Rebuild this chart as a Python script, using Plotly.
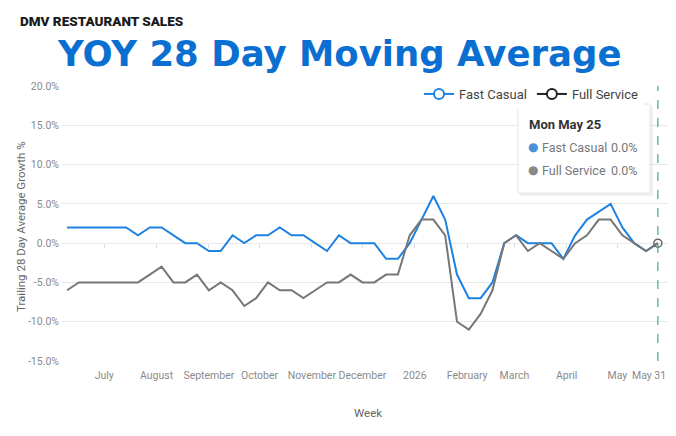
import pandas as pd
import plotly.graph_objects as go

# ---------------- data ----------------
start_week = "2025-06-09"   # first Monday shown
n_weeks = 51
weeks = pd.date_range(start_week, periods=n_weeks, freq="7D")

fast_casual = [2, 2, 2, 2, 2, 2, 1, 2, 2, 1, 0, 0, -1, -1, 1, 0, 1, 1, 2, 1,
               1, 0, -1, 1, 0, 0, 0, -2, -2, 0, 3, 6, 3, -4, -7, -7, -5, 0, 1, 0,
               0, 0, -2, 1, 3, 4, 5, 2, 0, -1, 0]
full_service = [-6, -5, -5, -5, -5, -5, -5, -4, -3, -5, -5, -4, -6, -5, -6, -8, -7, -5, -6, -6,
                -7, -6, -5, -5, -4, -5, -5, -4, -4, 1, 3, 3, 1, -10, -11, -9, -6, 0, 1, -1,
                0, -1, -2, 0, 1, 3, 3, 1, 0, -1, 0]

tick_dates = ["2025-07-01", "2025-08-01", "2025-09-01", "2025-10-01", "2025-11-01",
              "2025-12-01", "2026-01-01", "2026-02-01", "2026-03-01", "2026-04-01", "2026-05-01"]
tick_labels = ["July", "August", "September", "October", "November", "December",
               "2026", "February", "March", "April", "May"]
x_range = ["2025-06-06", "2026-05-31"]
end_label = "May 31"
y_ticks = [-15, -10, -5, 0, 5, 10, 15, 20]

series_names = ["Fast Casual", "Full Service"]
BLUE = "#1E82E0"
GRAY = "#777777"

# ---------------- layout helpers ----------------
W, H = 676, 436
L, R, T, B = 62, 668, 86, 361


def px(x):
    return (x - L) / (R - L)


def py(y):
    return (B - y) / (B - T)


FONT = "Roboto, 'Noto Sans', sans-serif"

fig = go.Figure()

fig.add_trace(go.Scatter(x=weeks, y=fast_casual, mode="lines", name=series_names[0],
                         line=dict(color=BLUE, width=2), showlegend=False))
fig.add_trace(go.Scatter(x=weeks, y=full_service, mode="lines", name=series_names[1],
                         line=dict(color=GRAY, width=2), showlegend=False))
# hover marker on last point
fig.add_trace(go.Scatter(x=[weeks[-1]], y=[full_service[-1]], mode="markers", showlegend=False,
                         marker=dict(symbol="circle-open", size=8, color="#666666",
                                     line=dict(width=1.5, color="#666666"))))
# legend entries
fig.add_trace(go.Scatter(x=[None], y=[None], mode="lines+markers", name=series_names[0],
                         line=dict(color=BLUE, width=2),
                         marker=dict(symbol="circle", size=10, color="white",
                                     line=dict(color=BLUE, width=2))))
fig.add_trace(go.Scatter(x=[None], y=[None], mode="lines+markers", name=series_names[1],
                         line=dict(color="#222222", width=2),
                         marker=dict(symbol="circle", size=10, color="white",
                                     line=dict(color="#222222", width=2))))

# zero-line tick marks axis
fig.add_trace(go.Scatter(x=[weeks[0]], y=[None], xaxis="x2", showlegend=False, hoverinfo="skip"))

fig.update_layout(
    width=W, height=H,
    margin=dict(l=L, r=W - R, t=T, b=H - B),
    paper_bgcolor="white", plot_bgcolor="white",
    font=dict(family=FONT, size=11, color="#888888"),
    xaxis=dict(type="date", range=x_range, tickvals=tick_dates, ticktext=tick_labels,
               showgrid=False, zeroline=False, showline=False, ticks="", tickangle=0,
               tickfont=dict(size=10.5, color="#8a8a8a"), ticklabelstandoff=6),
    xaxis2=dict(type="date", range=x_range, overlaying="x", anchor="free",
                position=(0 - y_ticks[0]) / (y_ticks[-1] - y_ticks[0]),
                tickvals=tick_dates, showticklabels=False, showgrid=False,
                ticks="outside", ticklen=4, tickcolor="#dddddd", showline=False, zeroline=False),
    yaxis=dict(range=[y_ticks[0], y_ticks[-1]], tickvals=y_ticks,
               ticktext=[f"{v:.1f}%" for v in y_ticks],
               showgrid=True, gridcolor="#e8e8e8", gridwidth=1, zeroline=False,
               tickfont=dict(size=10.5, color="#8a8a8a"), ticks="", ticklabelstandoff=2),
    legend=dict(orientation="h", x=px(644), xanchor="right", y=py(94), yanchor="middle",
                bgcolor="white", font=dict(size=13, color="#444444"),
                itemwidth=30, tracegroupgap=0),
    showlegend=True,
)

# dashed hover line at last week
fig.add_shape(type="line", x0=weeks[-1], x1=weeks[-1], xref="x", yref="paper", y0=0, y1=1,
              line=dict(color="#3CB371", width=1.2, dash="dash"))

# tooltip box (shadow + box)
fig.add_shape(type="rect", xref="paper", yref="paper",
              x0=px(520), x1=px(653), y0=py(106), y1=py(196),
              fillcolor="rgba(0,0,0,0.06)", line=dict(width=0), layer="above")
fig.add_shape(type="rect", xref="paper", yref="paper",
              x0=px(518), x1=px(650), y0=py(104), y1=py(193),
              fillcolor="white", line=dict(color="#e4e4e4", width=1), layer="above")

ann = []
ann.append(dict(text="DMV RESTAURANT SALES", x=px(18), y=py(21), xref="paper", yref="paper",
                xanchor="left", yanchor="middle", showarrow=False,
                font=dict(family=FONT, size=13.5, color="#1a1a1a", weight=900)))
ann.append(dict(text="YOY 28 Day Moving Average", x=px(339), y=py(54), xref="paper", yref="paper",
                xanchor="center", yanchor="middle", showarrow=False,
                font=dict(family="'DejaVu Sans', sans-serif", size=35.5, color="#0A6FD0", weight=700)))
ann.append(dict(text="Trailing 28 Day Average Growth %", x=px(21), y=py(227), xref="paper",
                yref="paper", xanchor="center", yanchor="middle", textangle=-90, showarrow=False,
                font=dict(family=FONT, size=11.5, color="#666666")))
ann.append(dict(text="Week", x=px(368), y=py(413), xref="paper", yref="paper",
                xanchor="center", yanchor="middle", showarrow=False,
                font=dict(family=FONT, size=11.5, color="#666666")))
ann.append(dict(text=end_label, x=x_range[1], y=py(375), xref="x", yref="paper",
                xanchor="right", yanchor="middle", showarrow=False,
                font=dict(family=FONT, size=10.5, color="#8a8a8a")))

# tooltip contents
tip_date = weeks[-1].strftime("%a %b ") + str(weeks[-1].day)
ann.append(dict(text=f"<b>{tip_date}</b>", x=px(527), y=py(124), xref="paper", yref="paper",
                xanchor="left", yanchor="middle", showarrow=False,
                font=dict(family=FONT, size=13, color="#333333")))
rows = [(series_names[0], fast_casual[-1], "#4A90D9", 147),
        (series_names[1], full_service[-1], "#888888", 170)]
for name, val, c, yy in rows:
    ann.append(dict(text=f"<span style='color:{c}'>●</span>", x=px(533), y=py(yy),
                    xref="paper", yref="paper", xanchor="center", yanchor="middle",
                    showarrow=False, font=dict(family="'DejaVu Sans', sans-serif", size=12)))
    ann.append(dict(text=name, x=px(539.5), y=py(yy),
                    xref="paper", yref="paper", xanchor="left", yanchor="middle",
                    showarrow=False, font=dict(family=FONT, size=12.5, color="#777777")))
    ann.append(dict(text=f"{val:.1f}%", x=px(640), y=py(yy), xref="paper", yref="paper",
                    xanchor="right", yanchor="middle", showarrow=False,
                    font=dict(family=FONT, size=12.5, color="#777777")))

fig.update_layout(annotations=ann)

fig.write_html("out.html")
